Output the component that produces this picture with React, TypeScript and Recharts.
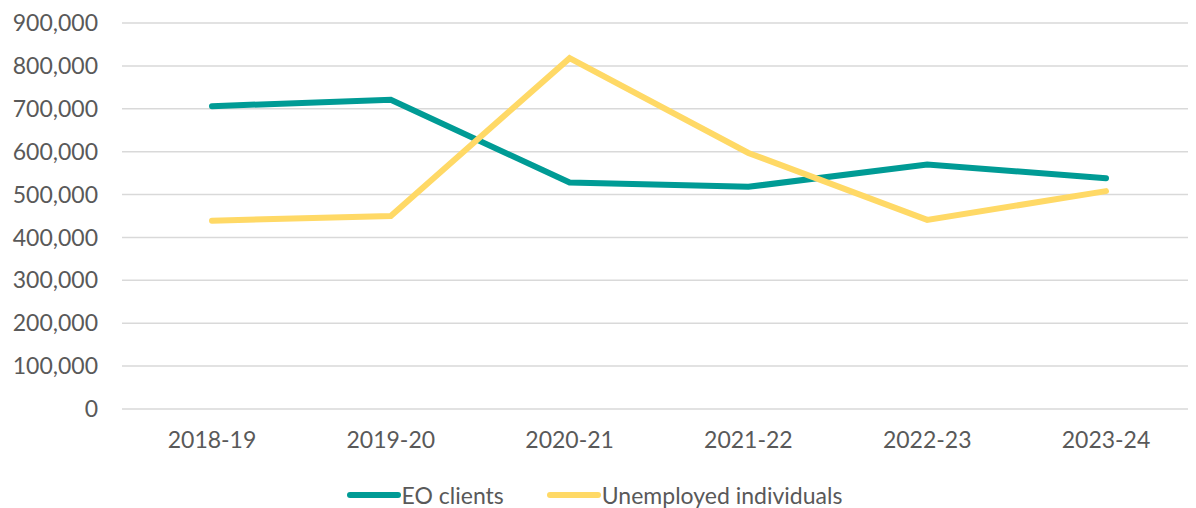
import React from "react";
import { LineChart, Line, XAxis, YAxis, CartesianGrid, Legend } from "recharts";

const categories = ["2018-19", "2019-20", "2020-21", "2021-22", "2022-23", "2023-24"];
const eoClients = [706000, 721000, 528000, 518000, 570000, 538000];
const unemployed = [439000, 450000, 818000, 597000, 441000, 508000];
const yTicks = [0, 100000, 200000, 300000, 400000, 500000, 600000, 700000, 800000, 900000];

const TEAL = "#009B95";
const YELLOW = "#FFD966";
const TEXT = "#595959";
const FONT = "Lato, 'Open Sans', sans-serif";

const data = categories.map((c, i) => ({ cat: c, eo: eoClients[i], un: unemployed[i] }));

const legendItems = [
  { label: "EO clients", color: TEAL },
  { label: "Unemployed individuals", color: YELLOW },
];

const LegendContent = () => (
  <div
    style={{
      display: "flex",
      justifyContent: "center",
      alignItems: "center",
      height: 40,
      paddingTop: 14,
      paddingRight: 16,
      boxSizing: "border-box",
      fontFamily: FONT,
      fontSize: 23,
      color: TEXT,
    }}
  >
    {legendItems.map((it, i) => (
      <div key={it.label} style={{ display: "flex", alignItems: "center", marginLeft: i === 0 ? 0 : 42 }}>
        <svg width={56} height={10} style={{ display: "block" }}>
          <line x1={4} y1={5} x2={52} y2={5} stroke={it.color} strokeWidth={6} strokeLinecap="round" />
        </svg>
        <span style={{ lineHeight: "26px" }}>{it.label}</span>
      </div>
    ))}
  </div>
);

export default function App() {
  return (
    <div style={{ width: 1188, height: 500, background: "#fff" }}>
      <LineChart width={1188} height={500} data={data} margin={{ top: 15, right: 0, bottom: 0, left: 0 }}>
        <CartesianGrid vertical={false} stroke="#D9D9D9" strokeWidth={1.5} />
        <XAxis
          dataKey="cat"
          axisLine={false}
          tickLine={false}
          height={59}
          tickMargin={17}
          padding={{ left: 90, right: 90 }}
          interval={0}
          tick={{ fill: TEXT, fontSize: 23, fontFamily: FONT }}
        />
        <YAxis
          domain={[0, 900000]}
          ticks={yTicks}
          interval={0}
          width={114}
          axisLine={false}
          tickLine={false}
          tickMargin={18}
          tickFormatter={(v: number) => v.toLocaleString("en-US")}
          tick={{ fill: TEXT, fontSize: 23, fontFamily: FONT }}
        />
        <Legend verticalAlign="bottom" height={40} content={<LegendContent />} />
        <Line
          type="linear"
          dataKey="eo"
          name="EO clients"
          stroke={TEAL}
          strokeWidth={6}
          strokeLinecap="round"
          dot={false}
          activeDot={false}
          isAnimationActive={false}
        />
        <Line
          type="linear"
          dataKey="un"
          name="Unemployed individuals"
          stroke={YELLOW}
          strokeWidth={6}
          strokeLinecap="round"
          dot={false}
          activeDot={false}
          isAnimationActive={false}
        />
      </LineChart>
    </div>
  );
}
